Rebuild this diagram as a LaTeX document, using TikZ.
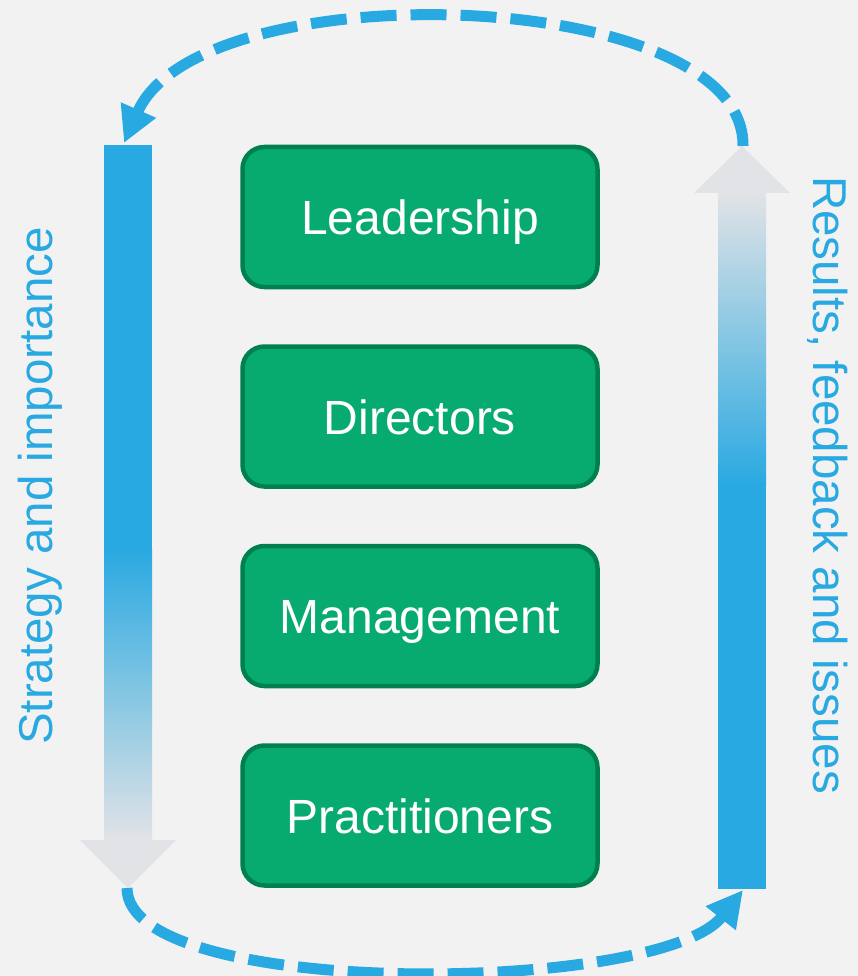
\documentclass[tikz,border=0pt]{standalone}
\usepackage{fontspec}
\setmainfont{Liberation Sans}
\usepackage{tikz}
\usetikzlibrary{positioning,arrows.meta}
\definecolor{skyblue}{HTML}{29A9E1}
\definecolor{boxgreen}{HTML}{08AB6F}
\definecolor{boxedge}{HTML}{00804F}
\definecolor{fadegray}{HTML}{E2E3E6}
\definecolor{paper}{HTML}{F2F2F2}
\tikzset{level/.style={draw=boxedge,line width=4.5pt,fill=boxgreen,rounded corners=22pt,
    minimum width=355pt,minimum height=140pt,text=white,text height=35pt,text depth=0pt,
    font=\fontsize{48}{56}\selectfont},
  side/.style={text=skyblue,font=\fontsize{47.5}{56}\selectfont},
  flow/.style={skyblue,line width=11pt,dash pattern=on 36pt off 14pt,
    -{Triangle[length=36pt,width=36pt]}}}

\begin{document}
\begin{tikzpicture}[x=1pt,y=-1pt]
  \fill[paper] (0,0) rectangle (858,976);
  \useasboundingbox (0,0) rectangle (858,976);
\node[level] (lead) at (420,217) {Leadership};
\node[level,below=55pt of lead] (dir) {Directors};
\node[level,below=55pt of dir] (man) {Management};
\node[level,below=55pt of man] (prac) {Practitioners};
% downward arrow, left
\fill[skyblue] (104,145) rectangle (152,550);
\shade[top color=skyblue,bottom color=fadegray] (104,549) rectangle (152,841);
\fill[fadegray] (80,840) -- (176,840) -- (128,888) -- cycle;
% upward arrow, right
\fill[skyblue] (718,484) rectangle (766,889);
\shade[top color=fadegray,bottom color=skyblue] (718,192) rectangle (766,485);
\fill[fadegray] (694,193) -- (742,146) -- (790,193) -- cycle;
\coordinate (rtip) at (743,146);
\coordinate (ltop) at (124,143);
\coordinate (ltip) at (127,888);
\coordinate (rbot) at (743,890);
\draw[flow] (rtip) .. controls (745,-15) and (200,-30) .. (ltop);
\draw[flow] (ltip) .. controls (127,1000) and (660,995) .. (rbot);
\node[side,rotate=90] (down) at (40,486) {Strategy and importance};
\node[side,rotate=-90] (up) at (828,485) {Results, feedback and issues};
\end{tikzpicture}
\end{document}
